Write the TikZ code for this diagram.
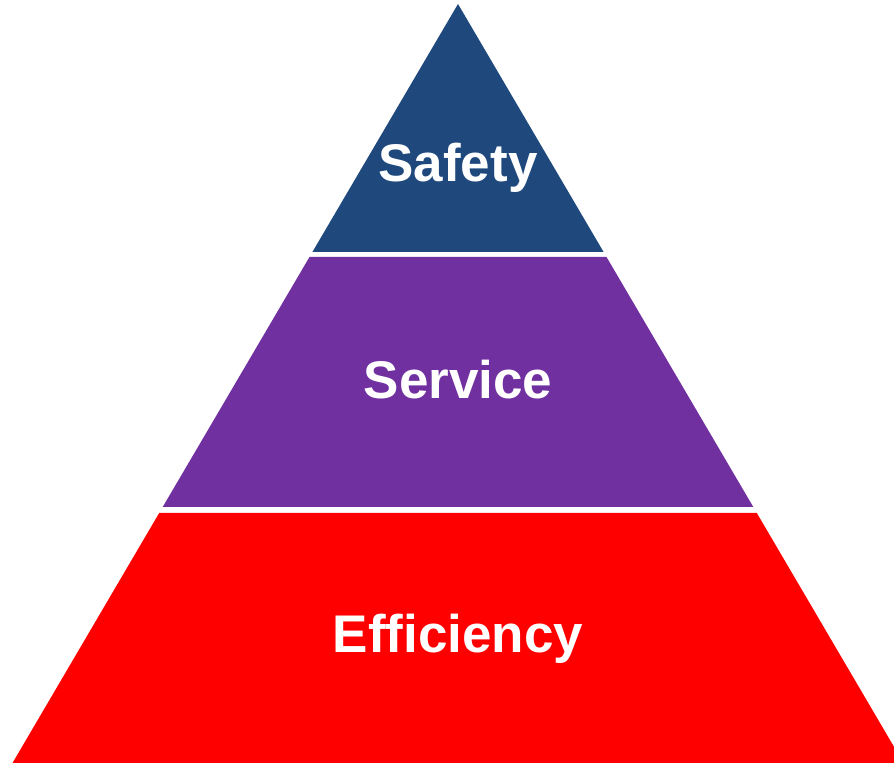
\documentclass[tikz,border=0pt]{standalone}
\usepackage{fontspec}
\setmainfont{Liberation Sans}
\definecolor{safetyblue}{HTML}{1F497D}
\definecolor{servicepurple}{HTML}{7030A0}
\definecolor{effred}{HTML}{FF0000}
\begin{document}
\begin{tikzpicture}[x=1pt,y=1pt,
  lbl/.style={text=white,font=\fontsize{53}{60}\selectfont\bfseries,anchor=base,inner sep=0pt}]
\useasboundingbox (0,0) rectangle (894,765);
\clip (0,0) rectangle (894,765);
% bands (y = 765 - pixel row)
\fill[safetyblue] (458,761) -- (603.6,513) -- (312.4,513) -- cycle;
\fill[servicepurple] (309.5,508) -- (606.5,508) -- (753.3,258) -- (162.7,258) -- cycle;
\fill[effred] (159.2,252) -- (756.8,252) -- (903.5,2) -- (12.5,2) -- cycle;
\node[lbl] (safety) at (458,583) {Safety};
\node[lbl] (service) at (458,366) {Service};
\node[lbl] (eff) at (458,112) {Efficiency};
\end{tikzpicture}
\end{document}
